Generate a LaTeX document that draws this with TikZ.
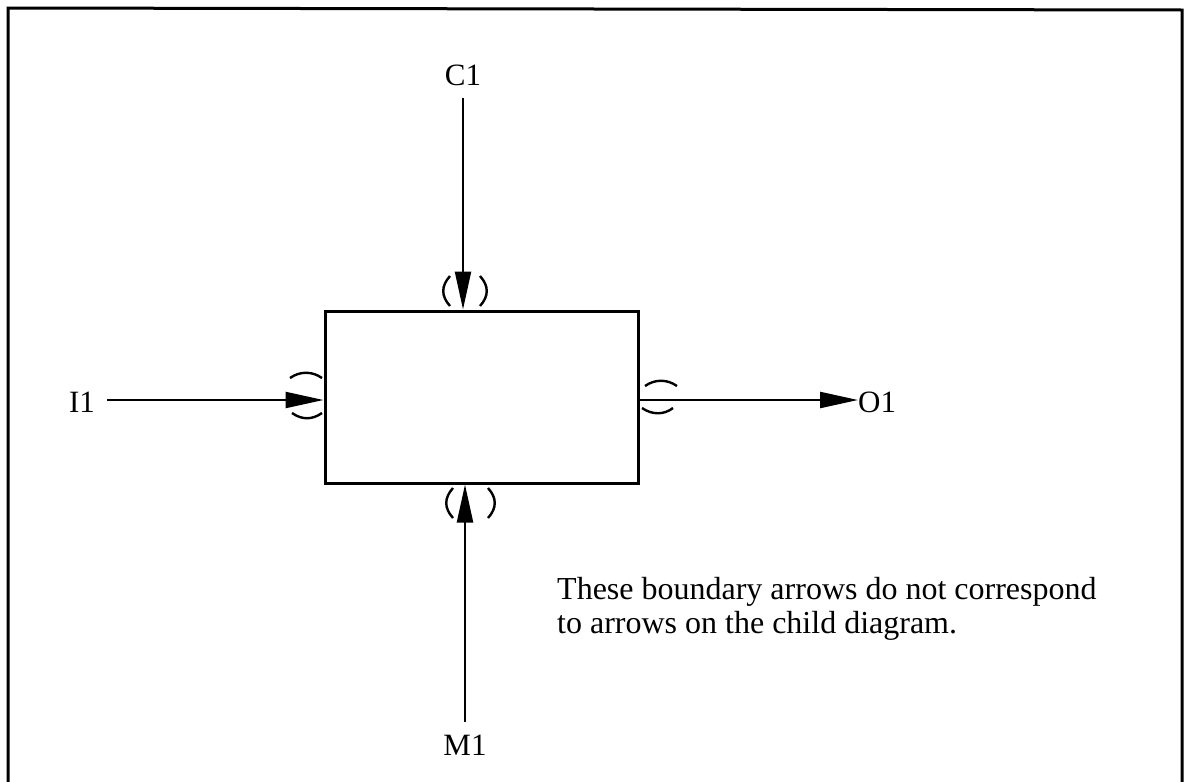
\documentclass[tikz,border=0pt]{standalone}
\usepackage{fontspec}
\setmainfont{Liberation Serif}
\usetikzlibrary{arrows.meta}
\begin{document}
\begin{tikzpicture}[x=1pt,y=-1pt,
  lbl/.style={font=\fontsize{31}{37}\selectfont, inner sep=0pt},
  note/.style={font=\fontsize{32}{34}\selectfont, inner sep=0pt},
  arr/.style={line width=2.3pt, -{Triangle[length=38pt,width=16pt]}},
  tun/.style={line width=2.4pt},
  frame/.style={line width=3pt}]
\useasboundingbox (0,0) rectangle (1184,782);
\draw[frame] (8,782) -- (8,8) -- (1182,10) -- (1182,782);
\node[draw, line width=3pt, minimum width=313pt, minimum height=172pt, inner sep=0pt] (box) at (481.5,397) {};
\node[lbl] (C1) at (463,75) {C1};
\node[lbl] (I1) at (82,402) {I1};
\node[lbl, anchor=west] (O1) at (858,402) {O1};
\node[lbl] (M1) at (465,745) {M1};
\coordinate (ct) at (463,98);
\coordinate (mb) at (465,722);
\draw[arr] (ct) -- (ct |- box.north);
\draw[arr] (mb) -- (mb |- box.south);
\coordinate (il) at (107,400);
\draw[arr] (il) -- (il -| box.west);
\coordinate (or) at (858,400);
\draw[arr] (or -| box.east) -- (or);
% tunnel brackets
\draw[tun] (450,276) .. controls (441,286) and (441,296) .. (450,306);
\draw[tun] (480,276) .. controls (489,286) and (489,296) .. (480,306);
\draw[tun] (453,488) .. controls (444,498) and (444,508) .. (453,518);
\draw[tun] (488,488) .. controls (497,498) and (497,508) .. (488,518);
\draw[tun] (290,378) .. controls (300,371) and (312,371) .. (322,378);
\draw[tun] (292,413) .. controls (302,420) and (312,420) .. (322,413);
\draw[tun] (645,386) .. controls (655,379) and (667,379) .. (677,386);
\draw[tun] (642,408) .. controls (652,415) and (664,415) .. (673,408);
\node[note, anchor=north west, align=left] (txt) at (557,577) {These boundary arrows do not correspond\\to arrows on the child diagram.};
\end{tikzpicture}
\end{document}
